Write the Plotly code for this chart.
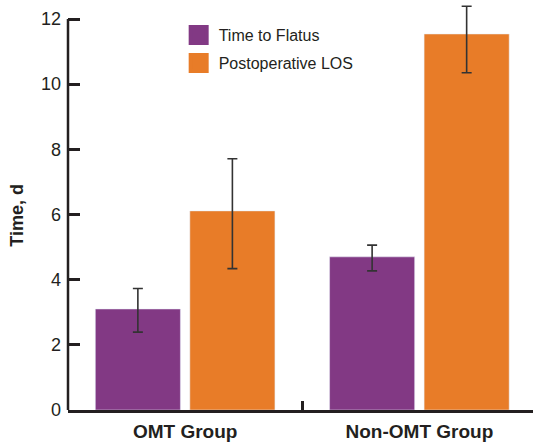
import plotly.graph_objects as go

groups = ["OMT Group", "Non-OMT Group"]
flatus = [3.10, 4.70]
flatus_err_plus = [0.63, 0.36]
flatus_err_minus = [0.71, 0.43]
los = [6.11, 11.54]
los_err_plus = [1.60, 0.85]
los_err_minus = [1.77, 1.19]
y_ticks = [0, 2, 4, 6, 8, 10, 12]

PURPLE = "#823984"
ORANGE = "#e87c28"
DARK = "#231f20"
FONT = "Liberation Sans"

fig = go.Figure()
fig.add_trace(go.Bar(
    x=groups, y=flatus, name="Time to Flatus", marker_color=PURPLE, showlegend=False,
    error_y=dict(type="data", array=flatus_err_plus, arrayminus=flatus_err_minus,
                 color="#333333", thickness=1.6, width=5),
))
fig.add_trace(go.Bar(
    x=groups, y=los, name="Postoperative LOS", marker_color=ORANGE, showlegend=False,
    error_y=dict(type="data", array=los_err_plus, arrayminus=los_err_minus,
                 color="#333333", thickness=1.6, width=5),
))
# legend entries with larger square swatches
for i, (nm, col) in enumerate([("Time to Flatus", PURPLE), ("Postoperative LOS", ORANGE)]):
    fig.add_trace(go.Scatter(
        x=[None], y=[None], mode="markers", name=nm, legendgroup=f"g{i}",
        marker=dict(symbol="square", size=16, color=col, line=dict(color=col, width=4)),
        showlegend=True,
    ))

XR = [-0.5, 1.485]
fig.update_layout(
    width=534, height=444,
    margin=dict(l=68, r=1, t=1, b=34),
    plot_bgcolor="white", paper_bgcolor="white",
    barmode="group", bargap=0.193, bargroupgap=0.1,
    font=dict(family=FONT, color=DARK),
    legend=dict(x=0.238, y=0.958, xanchor="left", yanchor="top",
                font=dict(size=16, color=DARK, family=FONT),
                bgcolor="rgba(0,0,0,0)", traceorder="grouped", tracegroupgap=4),
    xaxis=dict(type="category", range=XR, showline=True, linecolor=DARK,
               linewidth=2.5, ticks="", showgrid=False, zeroline=False,
               tickfont=dict(size=19, color=DARK, family=FONT, weight="bold"),
               ticklabelstandoff=2, automargin=False),
    xaxis2=dict(overlaying="x", anchor="y", side="bottom", range=XR,
                tickvals=[0.5], ticks="inside", ticklen=9, tickwidth=2.5,
                tickcolor=DARK, showticklabels=False, showgrid=False,
                zeroline=False, showline=False, automargin=False),
    yaxis=dict(range=[0, 12.553], tickvals=y_ticks, ticks="inside", ticklen=12,
               tickwidth=2.5, tickcolor=DARK, showline=False, showgrid=False,
               zeroline=False, tickfont=dict(size=18, color=DARK, family=FONT),
               ticklabelstandoff=6, automargin=False),
    shapes=[dict(type="line", xref="paper", yref="y", x0=0, x1=0, y0=0, y1=12,
                 line=dict(color=DARK, width=2.5))],
    annotations=[dict(text="Time, d", textangle=-90, xref="paper", yref="paper",
                      x=-0.11, y=0.477, xanchor="center", yanchor="middle",
                      showarrow=False,
                      font=dict(size=18, color=DARK, family=FONT, weight="bold"))],
)
# dummy trace to activate xaxis2
fig.add_trace(go.Scatter(x=[None], y=[None], xaxis="x2", showlegend=False))

fig.write_html("out.html", config={"displayModeBar": False},
               post_script="document.body.style.margin='0px';document.body.style.overflow='hidden';")
